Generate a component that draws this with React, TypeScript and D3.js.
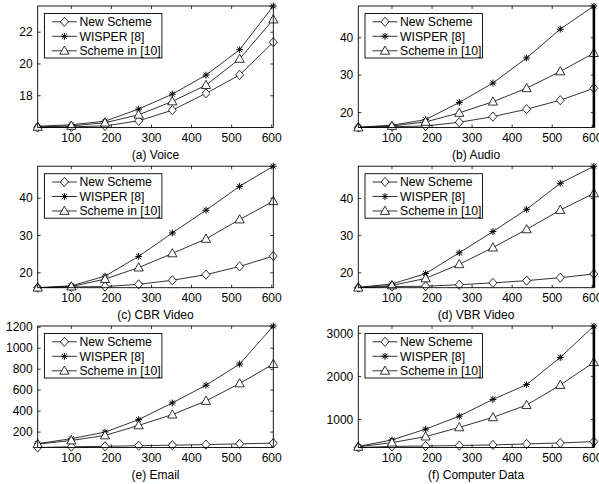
import * as d3 from 'd3';

// x axis: number of users, shared by all panels
const xValues = [16, 100, 184, 268, 352, 436, 520, 604];
const xTicks = [100, 200, 300, 400, 500, 600];
const seriesNames = ['New Scheme', 'WISPER [8]', 'Scheme in [10]'];
const markerKinds = ['diamond', 'star', 'triangle'];

// (a) Voice
const voiceNew = [16.0, 16.04, 16.1, 16.42, 17.09, 18.15, 19.31, 21.37];
const voiceWisper = [16.08, 16.17, 16.4, 17.16, 18.1, 19.3, 20.9, 23.65];
const voiceS10 = [16.04, 16.1, 16.3, 16.8, 17.64, 18.67, 20.32, 22.8];
const voiceTicks = [18, 20, 22];

// (b) Audio
const audioNew = [16.0, 16.2, 16.4, 17.4, 18.9, 20.9, 23.3, 26.5];
const audioWisper = [16.1, 16.6, 18.1, 22.7, 27.9, 34.6, 42.3, 48.5];
const audioS10 = [16.0, 16.4, 17.5, 19.9, 22.9, 26.5, 31.0, 35.9];
const audioTicks = [20, 30, 40];

// (c) CBR Video
const cbrNew = [16.0, 16.2, 16.3, 16.9, 18.0, 19.5, 21.7, 24.5];
const cbrWisper = [16.0, 16.5, 19.1, 24.4, 30.7, 36.8, 43.2, 48.6];
const cbrS10 = [16.0, 16.3, 18.3, 21.4, 25.2, 29.1, 34.3, 39.2];
const cbrTicks = [20, 30, 40];

// (d) VBR Video
const vbrNew = [16.0, 16.3, 16.4, 16.8, 17.3, 17.9, 18.7, 19.7];
const vbrWisper = [16.1, 17.0, 19.8, 25.4, 31.1, 37.1, 44.1, 48.7];
const vbrS10 = [16.0, 16.6, 18.5, 22.3, 26.8, 31.7, 36.9, 41.4];
const vbrTicks = [20, 30, 40];

// (e) Email
const emailNew = [53, 60, 64, 70, 75, 81, 88, 95];
const emailWisper = [90, 137, 200, 319, 478, 647, 849, 1212];
const emailS10 = [85, 120, 168, 264, 367, 497, 664, 849];
const emailTicks = [200, 400, 600, 800, 1000, 1200];

// (f) Computer Data
const dataNew = [350, 375, 385, 395, 410, 433, 456, 486];
const dataWisper = [375, 526, 776, 1078, 1467, 1810, 2440, 3171];
const dataS10 = [365, 463, 603, 817, 1050, 1335, 1800, 2330];
const dataTicks = [1000, 2000, 3000];

const panelTitles = ['(a) Voice', '(b) Audio', '(c) CBR Video', '(d) VBR Video', '(e) Email', '(f) Computer Data'];
const panelSeries = [
  [voiceNew, voiceWisper, voiceS10],
  [audioNew, audioWisper, audioS10],
  [cbrNew, cbrWisper, cbrS10],
  [vbrNew, vbrWisper, vbrS10],
  [emailNew, emailWisper, emailS10],
  [dataNew, dataWisper, dataS10],
];
const panelTicks = [voiceTicks, audioTicks, cbrTicks, vbrTicks, emailTicks, dataTicks];

const FONT = '"Liberation Sans", Arial, Helvetica, sans-serif';
const PW = 235.6;
const PH = 121.5;
const LEFTS = [37.7, 358.3];
const TOPS = [6, 166.2, 326];

function Marker({ kind, x, y }: { kind: string; x: number; y: number }) {
  if (kind === 'diamond') {
    return <path d={`M${x},${y - 4.6}L${x + 4},${y}L${x},${y + 4.6}L${x - 4},${y}Z`} fill="white" stroke="black" strokeWidth={0.8} />;
  }
  if (kind === 'triangle') {
    return <path d={`M${x},${y - 4.8}L${x + 4.6},${y + 3.4}L${x - 4.6},${y + 3.4}Z`} fill="white" stroke="black" strokeWidth={0.8} />;
  }
  const r = 3.4;
  const d = r * 0.72;
  return (
    <path
      d={`M${x - r},${y}L${x + r},${y}M${x},${y - r}L${x},${y + r}M${x - d},${y - d}L${x + d},${y + d}M${x - d},${y + d}L${x + d},${y - d}`}
      stroke="black"
      strokeWidth={1}
    />
  );
}

function Panel({ idx }: { idx: number }) {
  const col = idx % 2;
  const row = Math.floor(idx / 2);
  const left = LEFTS[col];
  const top = TOPS[row];
  const series = panelSeries[idx];
  const allVals = series.flat();
  const [ymin, ymax] = d3.extent(allVals) as [number, number];

  const x = d3.scaleLinear().domain([xValues[0], xValues[xValues.length - 1]]).range([left, left + PW]);
  const y = d3.scaleLinear().domain([ymin, ymax]).range([top + PH, top]);
  const line = d3.line<number>().x((_, i) => x(xValues[i])).y(v => y(v));

  const lx = left + 6.7;
  const ly = top + 7.5;
  const lw = 117.5;
  const lh = 44.5;

  return (
    <g>
      <rect x={left} y={top} width={PW} height={PH} fill="white" stroke="none" />
      {/* ticks */}
      {xTicks.map(t => (
        <g key={'x' + t}>
          <line x1={x(t)} x2={x(t)} y1={top + PH} y2={top + PH - 3} stroke="black" strokeWidth={0.8} />
          <line x1={x(t)} x2={x(t)} y1={top} y2={top + 3} stroke="black" strokeWidth={0.8} />
          <text x={x(t)} y={top + PH + 14.5} textAnchor="middle" fontSize={12} fontFamily={FONT}>{t}</text>
        </g>
      ))}
      {panelTicks[idx].map(t => (
        <g key={'y' + t}>
          <line x1={left} x2={left + 3} y1={y(t)} y2={y(t)} stroke="black" strokeWidth={0.8} />
          <line x1={left + PW} x2={left + PW - 3} y1={y(t)} y2={y(t)} stroke="black" strokeWidth={0.8} />
          <text x={left - 5} y={y(t) + 4.2} textAnchor="end" fontSize={12} fontFamily={FONT}>{t}</text>
        </g>
      ))}
      {/* series */}
      {series.map((s, si) => (
        <g key={si}>
          <path d={line(s) || ''} fill="none" stroke="black" strokeWidth={0.8} />
          {s.map((v, i) => (
            <Marker key={i} kind={markerKinds[si]} x={x(xValues[i])} y={y(v)} />
          ))}
        </g>
      ))}
      <rect x={left} y={top} width={PW} height={PH} fill="none" stroke="black" strokeWidth={0.9} />
      {col === 1 && (
        <line x1={left + PW} x2={left + PW} y1={top} y2={top + PH} stroke="black" strokeWidth={2.6} />
      )}
      {/* legend */}
      <rect x={lx} y={ly} width={lw} height={lh} fill="white" stroke="black" strokeWidth={0.9} />
      {seriesNames.map((name, si) => {
        const cy = ly + 8.3 + si * 14.5;
        return (
          <g key={name}>
            <line x1={lx + 7.5} x2={lx + 32.5} y1={cy} y2={cy} stroke="black" strokeWidth={0.8} />
            <Marker kind={markerKinds[si]} x={lx + 20} y={cy} />
            <text x={lx + 35} y={cy + 4.3} fontSize={12.2} fontFamily={FONT}>{name}</text>
          </g>
        );
      })}
      <text x={left + PW / 2} y={top + PH + 31.5} textAnchor="middle" fontSize={12} fontFamily={FONT}>
        {panelTitles[idx]}
      </text>
    </g>
  );
}

export default function App() {
  return (
    <svg
      width={599}
      height={484}
      style={{ position: 'absolute', left: 0, top: 0, background: 'white' }}
    >
      <rect width={599} height={484} fill="white" />
      {panelTitles.map((_, i) => <Panel key={i} idx={i} />)}
    </svg>
  );
}
